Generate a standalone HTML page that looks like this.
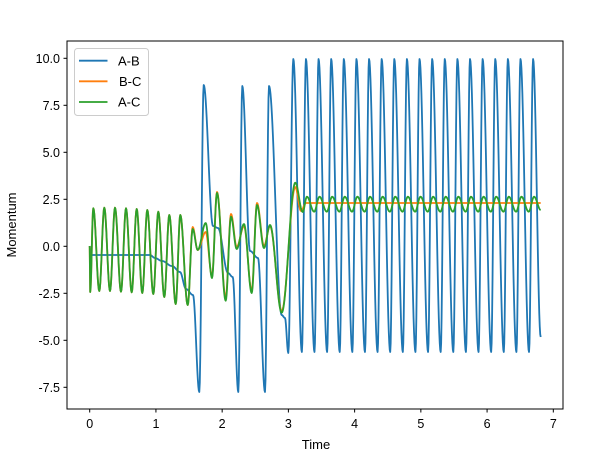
<!DOCTYPE html>
<html><head><meta charset="utf-8"><style>
html,body{margin:0;padding:0;background:#fff;}
svg{display:block;font-family:"Liberation Sans","DejaVu Sans",sans-serif;}
</style></head><body>
<svg id="s" width="601" height="460" viewBox="0 0 601 460" xmlns="http://www.w3.org/2000/svg">
<rect width="601" height="460" fill="#fff"/>
<g id="lines" fill="none" stroke-width="1.8" stroke-linejoin="round"></g>
<rect x="67" y="41" width="496" height="368" fill="none" stroke="#000" stroke-width="1"/>
<g id="ticks" stroke="#000" stroke-width="1"></g>
<g id="labels" font-size="12.5" fill="#000"></g>
<text x="316" y="449" font-size="13" text-anchor="middle">Time</text>
<text transform="translate(16,225) rotate(-90)" font-size="13" text-anchor="middle">Momentum</text>
<g>
<rect x="74.5" y="48.5" width="74" height="67" rx="3" fill="#fff" fill-opacity="0.8" stroke="#ccc"/>
<line x1="79" y1="60.7" x2="107.5" y2="60.7" stroke="#1f77b4" stroke-width="1.8"/>
<line x1="79" y1="81.3" x2="107.5" y2="81.3" stroke="#ff7f0e" stroke-width="1.8"/>
<line x1="79" y1="102" x2="107.5" y2="102" stroke="#2ca02c" stroke-width="1.8"/>
<text x="118" y="65.3" font-size="13">A-B</text>
<text x="119" y="86" font-size="13"> B-C</text>
<text x="118" y="106.6" font-size="13">A-C</text>
</g>
</svg>
<script>
var NS="http://www.w3.org/2000/svg";
function cosPath(pts){
  var d="M"+pts[0][0]+","+pts[0][1];
  for(var i=1;i<pts.length;i++){
    var a=pts[i-1],b=pts[i];var n=Math.max(2,Math.ceil((b[0]-a[0])*2));
    for(var j=1;j<=n;j++){var s=j/n;var x=a[0]+(b[0]-a[0])*s;var y=a[1]+(b[1]-a[1])*(1-Math.cos(Math.PI*s))/2;d+=" L"+x.toFixed(2)+","+y.toFixed(2);}
  }
  return d;
}
function add(d,c){var p=document.createElementNS(NS,"path");p.setAttribute("d",d);p.setAttribute("stroke",c);document.getElementById("lines").appendChild(p);}
var P=12.62;
// Blue
var B=[[89.7,246],[90.5,255],[150,255],[155,258],[162,261],[172,266],[180,272],[186,289],[193,295],[199.3,392],[203.7,85],[213,226],[218,228],[228,273],[232.7,277],[238.3,392],[242.3,86],[250,251],[258,258],[265,392],[269,86],[281.7,315],[285,318],[288.3,353],[293.3,59]];
for(var k=1;k<20;k++){var xp=293.3+P*k;B.push([xp-P*0.32,352]);B.push([xp,59]);}
B.push([540.7,337]);
// Green
var G=[[89.7,246],[90.2,292]];
var px=[93.3,104.3,115,126,136.7,147.3,158.3,169.3,180.3];
var py=[208.3,207.7,207.7,208.3,209,210,211.7,215,215];
var tx=[99.3,110,121,131.7,142.3,153.3,164.3,175.7,187.7];
var ty=[291,291,291.7,292.3,293,294,297,304,305];
for(var i=0;i<9;i++){G.push([px[i],py[i]]);G.push([tx[i],ty[i]]);}
var G2=[[192.7,229],[197.7,250],[205.7,223],[212,278],[217,193],[225.7,300.7],[231,216.7],[236.7,249],[244,224],[251.7,293],[257,205],[264,248],[270,225],[281.7,312.7],[295.3,182.7],[302.7,212]];
var O=G.slice();
G=G.concat(G2);
for(var k=1;k<20;k++){var xp=293.3+P*k;G.push([xp+1,196.7]);if(k<19)G.push([xp+P*0.65,211.7]);}
G.push([540.7,210]);
// Orange
var O2=[[192.7,227],[197.7,250],[205.7,232],[212,276],[217,192],[225.7,298],[231,214],[236.7,247],[244,226],[251.7,291],[257,203],[264,246],[270,226],[281.7,311],[295.3,187],[301,211],[306,203],[540.7,203]];
O=O.concat(O2);
add(cosPath(B),"#1f77b4");
add(cosPath(O),"#ff7f0e");
add(cosPath(G),"#2ca02c");
// ticks
var tk=document.getElementById("ticks"),lb=document.getElementById("labels");
function ln(x1,y1,x2,y2){var l=document.createElementNS(NS,"line");l.setAttribute("x1",x1);l.setAttribute("y1",y1);l.setAttribute("x2",x2);l.setAttribute("y2",y2);tk.appendChild(l);}
function tx_(x,y,s,a){var t=document.createElementNS(NS,"text");t.setAttribute("x",x);t.setAttribute("y",y);t.setAttribute("text-anchor",a);t.textContent=s;lb.appendChild(t);}
for(var i=0;i<=7;i++){var x=89.7+66.23*i;ln(x,409,x,412.5);tx_(x,428,""+i,"middle");}
var yl=["-7.5","-5.0","-2.5","0.0","2.5","5.0","7.5","10.0"];
for(var i=0;i<8;i++){var y=387.3-47*i;ln(63.5,y,67,y);tx_(60,y+4.5,yl[i],"end");}
</script>
</body></html>
